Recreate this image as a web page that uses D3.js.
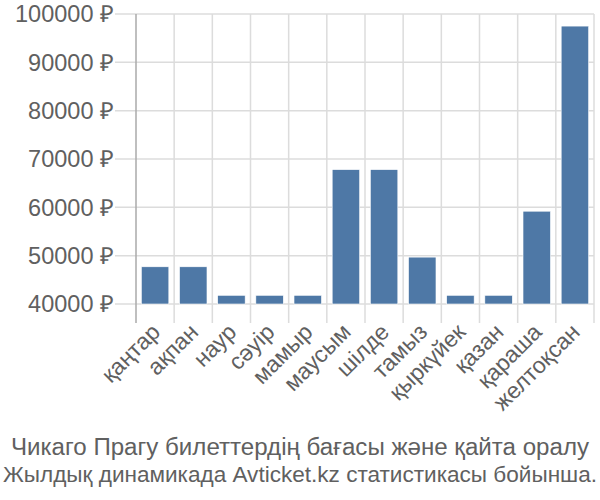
<!DOCTYPE html>
<html><head><meta charset="utf-8">
<script src="https://cdn.jsdelivr.net/npm/d3@7"></script>
<style>body{margin:0;background:#fff;} text{font-family:"Liberation Sans",Arial,sans-serif;}</style>
</head><body>
<svg id="c" width="600" height="500"></svg>
<script>
const months = ["қаңтар","ақпан","наур","сәуір","мамыр","маусым","шілде","тамыз","қыркүйек","қазан","қараша","желтоқсан"];
const prices = [47700, 47700, 41800, 41800, 41800, 67800, 67800, 49700, 41800, 41800, 59200, 97500];
const yTicks = [40000, 50000, 60000, 70000, 80000, 90000, 100000];
const titleLines = ["Чикаго Прагу билеттердің бағасы және қайта оралу", "Жылдық динамикада Avticket.kz статистикасы бойынша."];

const svg = d3.select("#c");
const L = 136, R = 594, T = 14, B = 304;
const x = d3.scaleBand().domain(months).range([L, R]).paddingInner(0.28).paddingOuter(0.14);
const xg = d3.scaleBand().domain(months).range([L, R]);
const y = d3.scaleLinear().domain([40000, 100000]).range([B, T]);

// horizontal grid
svg.append("g").selectAll("line").data(yTicks).join("line")
  .attr("x1", 115).attr("x2", R).attr("y1", d => y(d)).attr("y2", d => y(d))
  .attr("stroke", "#dcdcdc").attr("stroke-width", 1.5);
// vertical grid
svg.append("g").selectAll("line").data(months).join("line")
  .attr("x1", d => xg(d) + xg.bandwidth()).attr("x2", d => xg(d) + xg.bandwidth())
  .attr("y1", T).attr("y2", 323)
  .attr("stroke", "#dcdcdc").attr("stroke-width", 1.5);
// left axis line
svg.append("line").attr("x1", L).attr("x2", L).attr("y1", T).attr("y2", 323)
  .attr("stroke", "#aaa").attr("stroke-width", 1.5);

// y labels
svg.append("g").selectAll("text").data(yTicks).join("text")
  .attr("x", 114).attr("y", d => y(d)).attr("dy", "0.36em")
  .attr("text-anchor", "end").attr("fill", "#606060").style("font-size", "23.5px")
  .text(d => d + " ₽");

// bars
svg.append("g").selectAll("rect").data(prices).join("rect")
  .attr("x", (d,i) => x(months[i])).attr("width", x.bandwidth())
  .attr("y", d => y(d)).attr("height", d => B - y(d))
  .attr("fill", "#4e78a6").attr("stroke", "#fff").attr("stroke-width", 0.6);

// x labels
svg.append("g").selectAll("text").data(months).join("text")
  .attr("transform", d => `translate(${xg(d) + xg.bandwidth()/2 - 5},${322}) rotate(-45)`)
  .attr("text-anchor", "end").attr("dy", "0.7em")
  .attr("fill", "#606060").style("font-size", "23px")
  .text(d => d);

// title
const tl = [[11, 578], [3, 594]];
svg.append("g").selectAll("text").data(titleLines).join("text")
  .attr("x", (d,i) => tl[i][0]).attr("y", (d,i) => 455 + i*27)
  .attr("textLength", (d,i) => tl[i][1]).attr("lengthAdjust", "spacingAndGlyphs")
  .attr("fill", "#606060").style("font-size", (d,i) => i ? "22.5px" : "23.5px")
  .text(d => d);
</script>
</body></html>
